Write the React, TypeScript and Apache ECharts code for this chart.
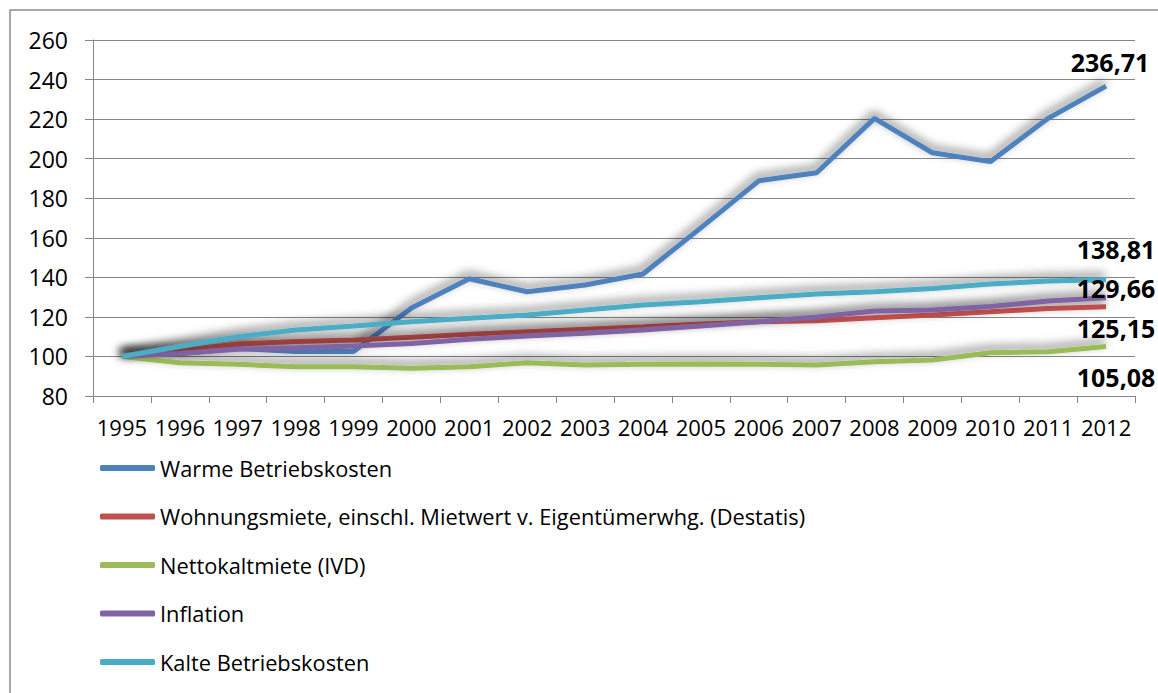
import React, { useEffect, useRef } from "react";
import * as echarts from "echarts";

const years = ["1995","1996","1997","1998","1999","2000","2001","2002","2003","2004","2005","2006","2007","2008","2009","2010","2011","2012"];
const warme = [100, 101.5, 104, 102.5, 102.5, 124.5, 139.3, 132.7, 136.1, 141.7, 165, 188.8, 192.9, 220.4, 203, 198.5, 220.4, 236.71];
const wohnung = [100, 103, 106.3, 107.5, 108.3, 109.7, 111.2, 112.5, 113.7, 115, 116.4, 117.6, 118.1, 119.6, 121, 122.6, 124.3, 125.15];
const netto = [100, 96.8, 96, 94.8, 94.8, 94, 94.8, 96.8, 95.7, 96, 96.2, 96, 95.7, 97.3, 98.2, 101.9, 102.4, 105.08];
const inflation = [100, 101.5, 103.6, 104.4, 105.3, 106.6, 108.7, 110.3, 111.7, 113.4, 115.4, 117.6, 120, 123, 123.5, 125.2, 128, 129.66];
const kalte = [100, 105, 110, 113.4, 115.4, 117.6, 119.3, 121, 123.5, 126, 127.7, 129.7, 131.6, 132.7, 134.4, 136.6, 138.1, 138.81];

const names = [
  "Warme Betriebskosten",
  "Wohnungsmiete, einschl. Mietwert v. Eigentümerwhg. (Destatis)",
  "Nettokaltmiete (IVD)",
  "Inflation",
  "Kalte Betriebskosten",
];
const colors = ["#4F81BD", "#C0504D", "#9BBB59", "#8064A2", "#4BACC6"];
const labelOffsets: number[][] = [[4, -24], [10, 21], [10, 31], [10, -10], [10, -31]];

const FONT = "Open Sans";

export default function App() {
  const ref = useRef<HTMLDivElement>(null);
  useEffect(() => {
    if (!ref.current) return;
    const chart = echarts.init(ref.current, null, { renderer: "svg" });
    const all = [warme, wohnung, netto, inflation, kalte];
    const last = years.length - 1;
    chart.setOption({
      animation: false,
      backgroundColor: "#fff",
      grid: { left: 93, top: 40, right: 23, bottom: 297, containLabel: false },
      graphic: [
        {
          type: "rect",
          shape: { x: 10, y: 10, width: 1300, height: 900 },
          style: { fill: "none", stroke: "#8c8c8c", lineWidth: 1.5 },
          silent: true,
          z: -1,
        },
      ],
      legend: {
        orient: "vertical",
        left: 100,
        top: 457,
        padding: 0,
        itemWidth: 55,
        itemHeight: 6,
        itemGap: 26.5,
        icon: "roundRect",
        data: names,
        textStyle: { fontFamily: FONT, fontSize: 21.8, color: "#000", lineHeight: 22 },
      },
      xAxis: {
        type: "category",
        data: years,
        boundaryGap: true,
        axisLine: { lineStyle: { color: "#868686", width: 1 } },
        axisTick: { show: true, length: 7, lineStyle: { color: "#868686" } },
        axisLabel: { interval: 0, color: "#000", fontFamily: FONT, fontSize: 22, margin: 20 },
      },
      yAxis: {
        type: "value",
        min: 80,
        max: 260,
        interval: 20,
        axisLine: { show: true, lineStyle: { color: "#868686", width: 1 } },
        axisTick: { show: true, length: 8, lineStyle: { color: "#868686" } },
        splitLine: { lineStyle: { color: "#868686", width: 1 } },
        axisLabel: { color: "#000", fontFamily: FONT, fontSize: 23, margin: 25 },
      },
      series: all.map((d, i) => ({
        name: names[i],
        type: "line",
        data: d,
        symbol: "none",
        color: colors[i],
        lineStyle: {
          width: 5,
          color: colors[i],
          shadowColor: "rgba(0,0,0,0.55)",
          shadowBlur: 10,
          shadowOffsetX: -1,
          shadowOffsetY: -4,
        },
        z: 2 + i,
        markPoint: {
          symbol: "circle",
          symbolSize: 1,
          itemStyle: { color: "rgba(0,0,0,0)" },
          z: 20,
          label: {
            show: true,
            position: "inside",
            offset: labelOffsets[i],
            color: "#000",
            fontFamily: FONT,
            fontWeight: "bold",
            fontSize: 25,
            formatter: (p: any) => Number(p.value).toFixed(2).replace(".", ","),
          },
          data: [{ coord: [years[last], d[last]], value: d[last] }],
        },
      })),
    });
    return () => chart.dispose();
  }, []);
  return (
    <div
      ref={ref}
      style={{ position: "absolute", left: 0, top: 0, width: 1158, height: 693 }}
    />
  );
}
